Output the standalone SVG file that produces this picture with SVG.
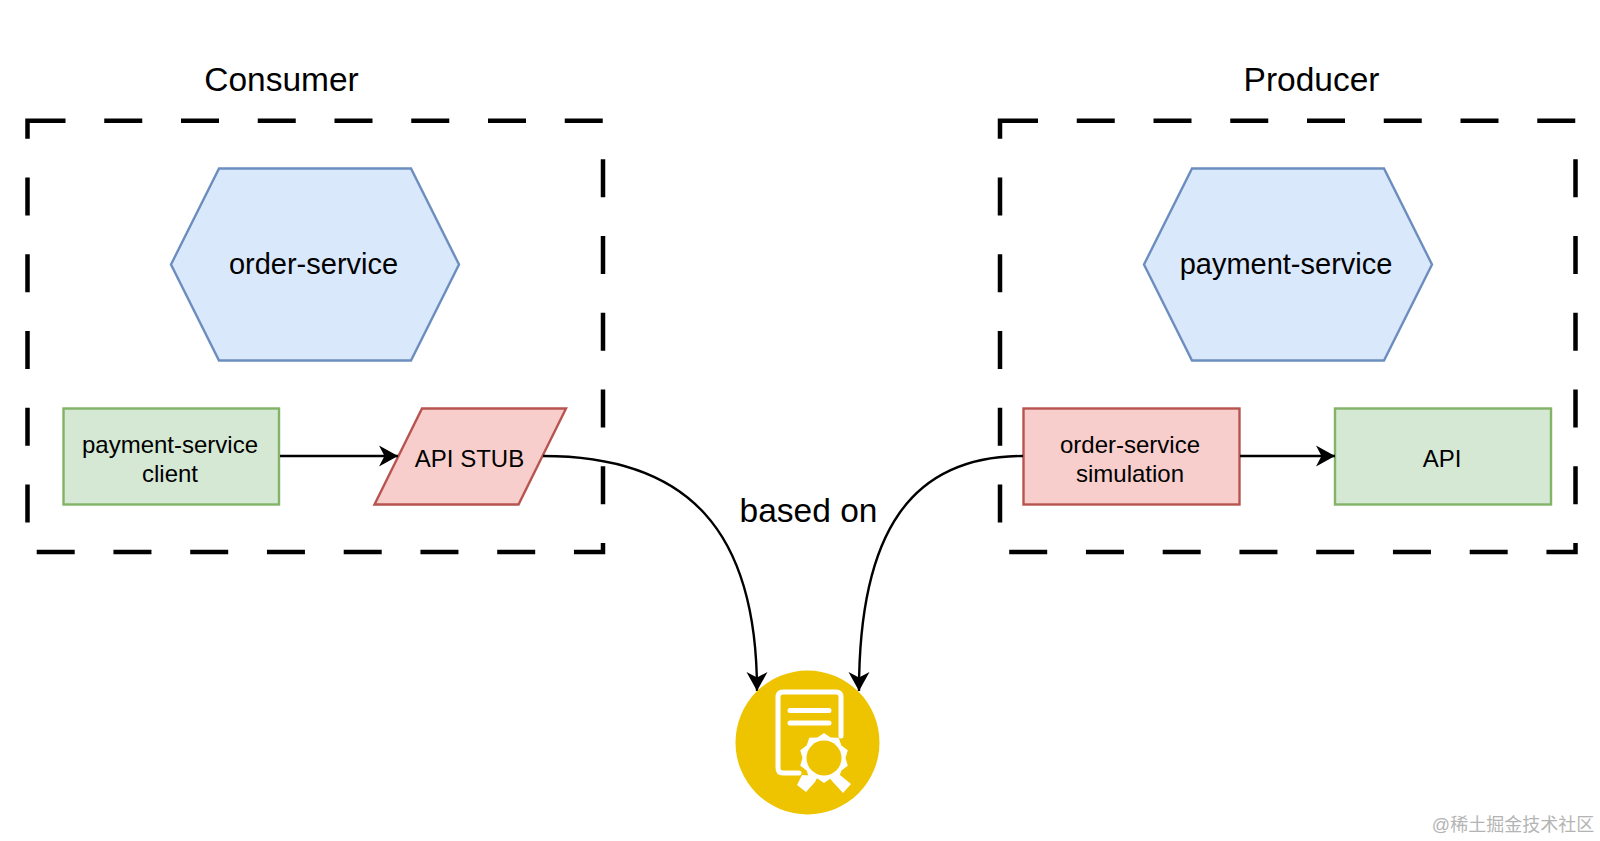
<svg xmlns="http://www.w3.org/2000/svg" width="1600" height="841" viewBox="0 0 1600 841">
<defs>
<style>
text{font-family:"Liberation Sans",Arial,sans-serif;fill:#000;text-anchor:middle}
.t{font-size:33.5px}.h{font-size:29px}.s{font-size:24px}
.frame{fill:none;stroke:#000;stroke-width:4.5;stroke-dasharray:38 38.75}
.hex{fill:#dae8fc;stroke:#6c8ebf;stroke-width:2.4}
.g{fill:#d5e8d4;stroke:#82b366;stroke-width:2.4}
.r{fill:#f8cecc;stroke:#b85450;stroke-width:2.4}
.c{fill:none;stroke:#000;stroke-width:2.4}
</style>
<marker id="a" markerUnits="userSpaceOnUse" markerWidth="24" markerHeight="24" refX="19" refY="11" orient="auto"><path d="M0 0.500L19 11L0 21.500L5.500 11Z" fill="#000"/></marker>
</defs>
<rect width="1600" height="841" fill="#fff"/>
<g id="consumer"><rect class="frame" x="27.500" y="120.800" width="575.500" height="431.200"/><text class="t" x="281.500" y="91">Consumer</text></g>
<g id="producer"><rect class="frame" x="1000" y="120.800" width="575.500" height="431.200"/><text class="t" x="1311.500" y="91">Producer</text></g>
<g id="order-service"><polygon class="hex" points="219,168.500 411,168.500 459,264.500 411,360.500 219,360.500 171,264.500"/><text class="h" x="313.500" y="274">order-service</text></g>
<g id="payment-service"><polygon class="hex" points="1192,168.500 1384,168.500 1432,264.500 1384,360.500 1192,360.500 1144,264.500"/><text class="h" x="1286" y="274">payment-service</text></g>
<g id="client"><rect class="g" x="63.500" y="408.500" width="215.500" height="96"/><text class="s" x="170" y="453">payment-service</text><text class="s" x="170" y="482">client</text></g>
<g id="stub"><polygon class="r" points="422,408.500 566,408.500 518.500,504.500 374.500,504.500"/><text class="s" x="469.500" y="467">API STUB</text></g>
<g id="simulation"><rect class="r" x="1023.500" y="408.500" width="216" height="96"/><text class="s" x="1130" y="453">order-service</text><text class="s" x="1130" y="482">simulation</text></g>
<g id="api"><rect class="g" x="1335" y="408.500" width="216" height="96"/><text class="s" x="1442" y="467">API</text></g>
<g id="connectors">
<path class="c" d="M280 456H398" marker-end="url(#a)"/>
<path class="c" d="M1240 456H1335" marker-end="url(#a)"/>
<path class="c" d="M543 456C688.500 456 757 531 757 691" marker-end="url(#a)"/>
<path class="c" d="M1023 456C911.500 456 859 531 859 691" marker-end="url(#a)"/>
</g>
<text class="t" x="808.500" y="522">based on</text>
<g id="contract">
<circle cx="807.500" cy="742.500" r="72" fill="#eec300"/>
<path d="M799 773H783Q778 773 778 768V697Q778 692 783 692H836Q841 692 841 697V736" fill="none" stroke="#fff" stroke-width="5" stroke-linecap="round"/>
<path d="M790 710.500H829M790 723H829" fill="none" stroke="#fff" stroke-width="5" stroke-linecap="round"/>
<path d="M802 775L797 785L806 792L815 782L818 776ZM840 775L851 784L843 793L832 781L828 776Z" fill="#fff"/>
<polygon fill="#fff" points="824,733 830.600,737.600 838.700,737.800 841.400,745.400 847.800,750.300 845.500,758 847.800,765.700 841.400,770.600 838.700,778.200 830.600,778.400 824,783 817.400,778.400 809.300,778.200 806.600,770.600 800.200,765.700 802.500,758 800.200,750.300 806.600,745.400 809.300,737.800 817.400,737.600"/>
<circle cx="824" cy="758" r="17.500" fill="#eec300"/>
</g>
<text x="1513" y="831" style="font-family:'Liberation Sans','Noto Sans CJK SC',sans-serif;font-size:18px;fill:#b4b4b4">@稀土掘金技术社区</text>
</svg>
